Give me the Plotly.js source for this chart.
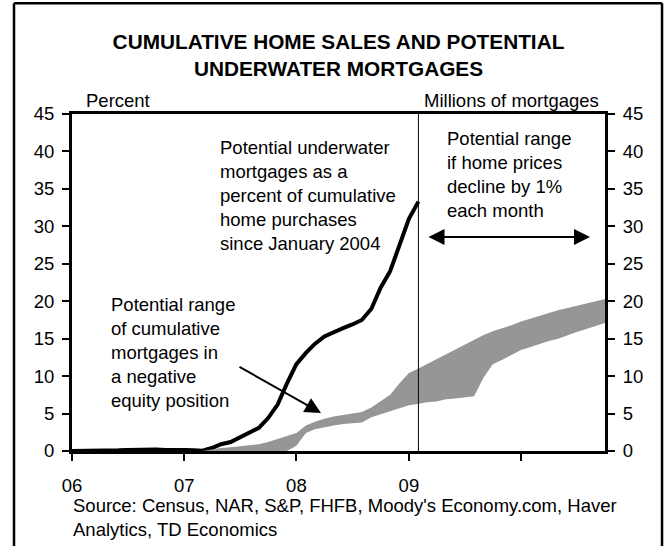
<!DOCTYPE html>
<html>
<head>
<meta charset="utf-8">
<script src="https://cdn.plot.ly/plotly-3.0.1.min.js"></script>
<style>html,body{margin:0;padding:0;background:#fff;}#chart{width:670px;height:546px;}</style>
</head>
<body>
<div id="chart"></div>
<script>
// Potential underwater mortgages as % of cumulative home purchases (left axis, percent)
const pctDates = ['2006-01-01','2006-02-01','2006-03-01','2006-04-01','2006-05-01','2006-06-01','2006-07-01','2006-08-01','2006-09-01','2006-10-01','2006-11-01','2006-12-01',
  '2007-01-01','2007-02-01','2007-03-01','2007-04-01','2007-05-01','2007-06-01','2007-07-01','2007-08-01','2007-09-01','2007-10-01','2007-11-01','2007-12-01',
  '2008-01-01','2008-02-01','2008-03-01','2008-04-01','2008-05-01','2008-06-01','2008-07-01','2008-08-01','2008-09-01','2008-10-01','2008-11-01','2008-12-01',
  '2009-01-01','2009-02-01'];
const pctValues = [0, 0, 0, 0, 0.05, 0.1, 0.15, 0.2, 0.25, 0.2, 0.15, 0.2,
  0.15, 0.1, 0.05, 0.4, 0.9, 1.2, 1.8, 2.4, 3.1, 4.4, 6.2, 9.0,
  11.6, 13.1, 14.3, 15.3, 15.9, 16.4, 16.9, 17.5, 19.0, 21.8, 24.0, 27.5,
  31.0, 33.3];

// Potential range of cumulative mortgages in negative equity (right axis, millions)
const rangeDates = ['2007-03-01','2007-04-01','2007-05-01','2007-06-01','2007-07-01','2007-08-01','2007-09-01','2007-10-01','2007-11-01','2007-12-01',
  '2008-01-01','2008-02-01','2008-03-01','2008-04-01','2008-05-01','2008-06-01','2008-07-01','2008-08-01','2008-09-01','2008-10-01','2008-11-01','2008-12-01',
  '2009-01-01','2009-02-01','2009-03-01','2009-04-01','2009-05-01','2009-06-01','2009-07-01','2009-08-01','2009-09-01','2009-10-01','2009-11-01','2009-12-01',
  '2010-01-01','2010-02-01','2010-03-01','2010-04-01','2010-05-01','2010-06-01','2010-07-01','2010-08-01','2010-09-01','2010-10-01'];
const rangeLow = [0, 0, 0, 0, 0, 0, 0, 0, 0, 0,
  0.7, 2.4, 2.9, 3.2, 3.4, 3.6, 3.7, 3.8, 4.5, 4.9, 5.3, 5.7,
  6.1, 6.3, 6.5, 6.6, 6.9, 7.0, 7.1, 7.3, 9.8, 11.6, 12.2, 12.8,
  13.5, 13.9, 14.3, 14.7, 15.0, 15.5, 15.9, 16.3, 16.7, 17.1];
const rangeHigh = [0, 0.2, 0.4, 0.5, 0.6, 0.75, 0.9, 1.2, 1.6, 2.0,
  2.4, 3.4, 3.9, 4.3, 4.6, 4.8, 5.0, 5.2, 5.8, 6.6, 7.5, 9.0,
  10.4, 11.0, 11.6, 12.2, 12.9, 13.6, 14.2, 14.9, 15.5, 16.0, 16.4, 16.8,
  17.3, 17.7, 18.1, 18.5, 18.8, 19.1, 19.4, 19.7, 20.0, 20.3];

const xTickVals = ['2006-01-01','2007-01-01','2008-01-01','2009-01-01','2010-01-01'];
const xTickText = ['06','07','08','09',''];

const FONT = 'Liberation Sans, Arial, Helvetica, sans-serif';
const FS = 18.5;
const G = '#969696';

const traces = [
  {x: rangeDates, y: rangeLow, yaxis: 'y2', type: 'scatter', mode: 'lines',
   line: {width: 0, color: G}, hoverinfo: 'skip', showlegend: false},
  {x: rangeDates, y: rangeHigh, yaxis: 'y2', type: 'scatter', mode: 'lines',
   fill: 'tonexty', fillcolor: G, line: {width: 0, color: G}, showlegend: false},
  {x: pctDates, y: pctValues, yaxis: 'y', type: 'scatter', mode: 'lines',
   line: {width: 4, color: '#000'}, showlegend: false}
];

const lastDate = pctDates[pctDates.length - 1];

const layout = {
  width: 670, height: 546,
  margin: {l: 72, r: 65, t: 114, b: 95},
  paper_bgcolor: '#fff', plot_bgcolor: '#fff',
  font: {family: FONT, size: FS, color: '#000'},
  title: {text: '<b>CUMULATIVE HOME SALES AND POTENTIAL<br>UNDERWATER MORTGAGES</b>',
          font: {family: FONT, size: 20.8, color: '#000'},
          xref: 'paper', x: 0.5, xanchor: 'center',
          yref: 'container', y: 0.911, yanchor: 'top'},
  xaxis: {type: 'date', range: [pctDates[0], rangeDates[rangeDates.length - 1]],
          tickvals: xTickVals, ticktext: xTickText, ticks: 'outside', ticklen: 7, tickwidth: 2,
          tickcolor: '#000', showline: true, linewidth: 3, linecolor: '#000', mirror: true,
          showgrid: false, zeroline: false, tickfont: {size: FS}, ticklabelstandoff: 9},
  yaxis: {range: [0, 45], dtick: 5, ticks: 'outside', ticklen: 7, tickwidth: 2, tickcolor: '#000',
          showline: true, linewidth: 3, linecolor: '#000', showgrid: false, zeroline: false,
          tickfont: {size: FS}, ticklabelstandoff: 4},
  yaxis2: {range: [0, 45], dtick: 5, overlaying: 'y', side: 'right', ticks: 'outside', ticklen: 7,
           tickwidth: 2, tickcolor: '#000', showline: true, linewidth: 3, linecolor: '#000',
           showgrid: false, zeroline: false, tickfont: {size: FS}, ticklabelstandoff: 4},
  shapes: [
    {type: 'line', xref: 'x', yref: 'paper', x0: lastDate, x1: lastDate, y0: 0, y1: 1,
     line: {color: '#000', width: 1}},
    {type: 'line', xref: 'paper', yref: 'paper', x0: -0.1088, x1: -0.1088, y0: -0.32, y1: 1.329,
     line: {color: '#000', width: 2.5}},
    {type: 'line', xref: 'paper', yref: 'paper', x0: 1.107, x1: 1.107, y0: -0.32, y1: 1.329,
     line: {color: '#000', width: 2.5}},
    {type: 'line', xref: 'paper', yref: 'paper', x0: -0.1088, x1: 1.107, y0: 1.329, y1: 1.329,
     line: {color: '#000', width: 2.5}}
  ],
  annotations: [
    {text: 'Percent', xref: 'paper', yref: 'paper', x: 0.0225, y: 1.0415, xanchor: 'left', yanchor: 'middle', showarrow: false},
    {text: 'Millions of mortgages', xref: 'paper', yref: 'paper', x: 0.9925, y: 1.0415, xanchor: 'right', yanchor: 'middle', showarrow: false},
    {text: 'Potential underwater<br>mortgages as a<br>percent of cumulative<br>home purchases<br>since January 2004',
     xref: 'paper', yref: 'paper', x: 0.274, y: 0.758, xanchor: 'left', yanchor: 'middle', align: 'left', showarrow: false},
    {text: 'Potential range<br>if home prices<br>decline by 1%<br>each month',
     xref: 'paper', yref: 'paper', x: 0.699, y: 0.819, xanchor: 'left', yanchor: 'middle', align: 'left', showarrow: false},
    {text: 'Potential range<br>of cumulative<br>mortgages in<br>a negative<br>equity position',
     xref: 'paper', yref: 'paper', x: 0.0695, y: 0.2923, xanchor: 'left', yanchor: 'middle', align: 'left', showarrow: false},
    {text: 'Source: Census, NAR, S&P, FHFB, Moody\'s Economy.com, Haver<br>Analytics, TD Economics',
     xref: 'paper', yref: 'paper', x: -0.002, y: -0.1975, xanchor: 'left', yanchor: 'middle', align: 'left', showarrow: false},
    {text: '', xref: 'paper', yref: 'paper', x: 0.9719, y: 0.635, ax: -163, ay: 0,
     showarrow: true, arrowhead: 2, startarrowhead: 2, arrowside: 'end+start', arrowsize: 1.6, arrowwidth: 2, arrowcolor: '#000'},
    {text: '', xref: 'paper', yref: 'paper', x: 0.4672, y: 0.1128, ax: -83, ay: -47,
     showarrow: true, arrowhead: 2, arrowsize: 1.6, arrowwidth: 2, arrowcolor: '#000'}
  ]
};

Plotly.newPlot('chart', traces, layout, {staticPlot: true, displayModeBar: false});
</script>
</body>
</html>
